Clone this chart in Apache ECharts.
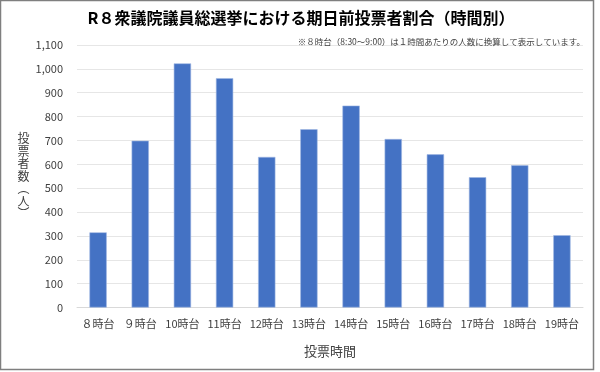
<!DOCTYPE html>
<html><head><meta charset="utf-8">
<script src="https://cdn.jsdelivr.net/npm/echarts@6/dist/echarts.min.js"></script>
<style>html,body{margin:0;padding:0;background:#fff}#c{width:600px;height:372px}</style>
</head><body><div id="c"></div>
<script>
const categories = ['８時台','９時台','10時台','11時台','12時台','13時台','14時台','15時台','16時台','17時台','18時台','19時台'];
const values = [315, 699, 1023, 961, 631, 747, 846, 706, 642, 546, 596, 303];
const titleText = 'R８衆議院議員総選挙における期日前投票者割合（時間別）';
const noteText = '※８時台（8:30～9:00）は１時間あたりの人数に換算して表示しています。';
const yName = '投\n票\n者\n数\n︵\n人\n︶';
const xName = '投票時間';
const F = '"Noto Sans CJK JP", "Noto Sans", sans-serif';
const chart = echarts.init(document.getElementById('c'), null, {renderer:'canvas'});
chart.setOption({
  animation:false,
  textStyle:{fontFamily:F},
  title:[
    {text:titleText, left:296, textAlign:'center', top:5, textStyle:{fontFamily:F, fontSize:16, fontWeight:'bold', color:'#000'}},
    {text:noteText, right:10, top:33, textStyle:{fontFamily:F, fontSize:8.5, fontWeight:'normal', color:'#404040'}}
  ],
  graphic:[{type:'rect', shape:{x:0.5,y:0.5,width:593,height:369}, style:{fill:'none', stroke:'#7f7f7f', lineWidth:1.5}, silent:true}],
  grid:{left:77, right:17, top:45, bottom:64.5},
  xAxis:{type:'category', data:categories,
    axisLine:{show:true, lineStyle:{color:'#d9d9d9'}}, axisTick:{show:false},
    axisLabel:{color:'#404040', fontSize:11, margin:11, fontFamily:F, interval:0},
    name:xName, nameLocation:'middle', nameGap:37, nameTextStyle:{color:'#404040', fontSize:13, fontFamily:F}},
  yAxis:{type:'value', min:0, max:1100, interval:100,
    axisLine:{show:false}, axisTick:{show:false},
    splitLine:{lineStyle:{color:'#e6e6e6'}},
    axisLabel:{color:'#404040', fontSize:11, margin:14, fontFamily:F, formatter:v=>v.toLocaleString('en-US')},
    name:yName, nameLocation:'middle', nameRotate:0, nameGap:48,
    nameTextStyle:{color:'#404040', fontSize:12, lineHeight:12.5, fontFamily:F, align:'center'}},
  series:[{type:'bar', data:values, barWidth:'41%',
    itemStyle:{color:'#4472C4', borderColor:'#9fb7e3', borderWidth:0.6}}]
});
</script></body></html>
